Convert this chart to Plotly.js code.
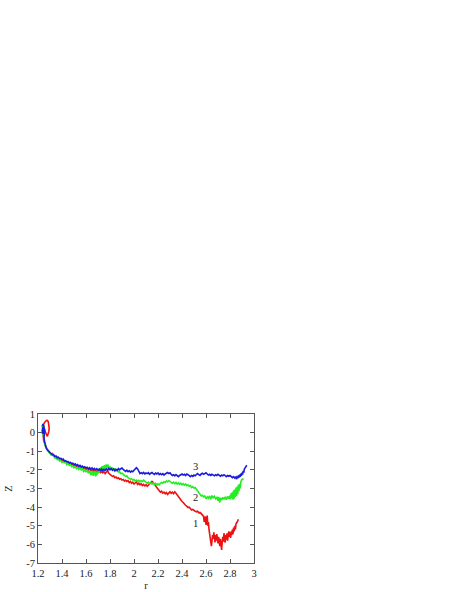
<!DOCTYPE html>
<html><head><meta charset="utf-8">
<script src="https://cdn.plot.ly/plotly-3.0.1.min.js"></script>
<style>html,body{margin:0;padding:0;background:#fff;}#chart{width:458px;height:592px;}</style>
</head><body><div id="chart"></div>
<script>
// Curve 1 (red)
const r1 = [1.235,1.245,1.255,1.265,1.275,1.285,1.29,1.293,1.29,1.285,1.278,1.27,1.262,1.255,1.248,1.243,1.247,1.255,1.265,1.275,1.29,
1.3,1.31,1.32,1.33,1.34,1.35,1.36,1.37,1.38,1.39,1.4,1.41,1.42,1.43,1.44,1.45,1.46,1.47,1.48,1.49,1.5,1.51,1.52,1.53,1.54,1.55,1.56,1.57,1.58,1.59,1.6,1.61,1.62,1.63,1.64,1.65,1.66,1.67,1.68,1.69,1.7,1.71,1.72,1.73,1.74,1.75,1.76,1.77,1.78,1.79,1.8,1.81,1.82,1.83,1.84,1.85,1.86,1.87,1.88,1.89,1.9,1.91,1.92,1.93,1.94,1.95,1.96,1.97,1.98,1.99,2.0,2.01,2.02,2.03,2.04,2.05,2.06,2.07,2.08,2.09,2.1,2.11,2.12,2.13,2.14,2.15,2.16,2.17,2.18,2.19,2.2,2.21,2.22,2.23,2.24,2.25,2.26,2.27,2.28,2.29,2.3,2.31,2.32,2.33,2.34,2.35,2.36,2.37,2.38,2.39,2.4,2.41,2.42,2.43,2.44,2.45,2.46,2.47,2.48,2.49,2.5,2.51,2.52,2.53,2.54,2.55,2.56,2.57,2.58,
2.585,2.59,2.595,2.6,2.605,2.61,2.615,2.62,2.625,2.63,2.635,2.64,2.645,2.65,2.655,2.66,2.665,2.67,2.675,2.68,2.685,2.69,2.695,2.7,2.705,2.71,2.715,2.72,2.725,2.73,2.735,2.74,2.745,2.75,2.755,2.76,2.765,2.77,2.775,2.78,2.785,2.79,2.795,2.8,2.805,2.81,2.815,2.82,2.825,2.83,2.835,2.84,2.845,2.85,2.86,2.87];
const z1 = [0.3,0.45,0.55,0.62,0.66,0.6,0.45,0.25,0.05,-0.12,-0.2,-0.1,0.05,0.15,0.05,-0.15,-0.4,-0.6,-0.75,-0.88,-1.0,
-1.08,-1.15,-1.12,-1.25,-1.28,-1.35,-1.32,-1.42,-1.45,-1.4,-1.52,-1.48,-1.58,-1.55,-1.6,-1.58,-1.68,-1.64,-1.72,-1.7,-1.76,-1.72,-1.82,-1.78,-1.86,-1.82,-1.88,-1.85,-1.93,-1.9,-1.97,-1.93,-2.0,-1.96,-2.05,-2.0,-2.08,-2.03,-2.1,-2.06,-2.12,-2.07,-2.15,-2.1,-2.16,-2.1,-2.2,-2.12,-2.05,-2.18,-2.22,-2.3,-2.35,-2.32,-2.42,-2.38,-2.46,-2.42,-2.5,-2.47,-2.55,-2.52,-2.6,-2.56,-2.62,-2.58,-2.68,-2.62,-2.72,-2.66,-2.76,-2.7,-2.65,-2.78,-2.72,-2.8,-2.74,-2.84,-2.78,-2.86,-2.8,-2.88,-2.82,-2.75,-2.7,-2.62,-2.68,-2.75,-2.85,-2.95,-3.05,-3.1,-3.2,-3.15,-3.25,-3.2,-3.28,-3.22,-3.32,-3.25,-3.18,-3.26,-3.2,-3.28,-3.18,-3.25,-3.35,-3.45,-3.55,-3.6,-3.7,-3.75,-3.85,-3.9,-3.95,-4.02,-4.0,-4.1,-4.15,-4.12,-4.2,-4.22,-4.25,-4.22,-4.3,-4.28,-4.35,-4.4,-4.5,
-4.8,-4.6,-4.5,-4.95,-4.6,-4.45,-5.0,-4.8,-5.2,-5.4,-5.7,-5.9,-6.1,-5.8,-5.5,-5.7,-5.35,-5.6,-5.9,-5.5,-5.8,-5.45,-5.75,-5.95,-5.6,-5.85,-6.1,-5.7,-6.0,-6.3,-5.9,-5.6,-5.85,-5.4,-5.7,-5.9,-5.5,-5.75,-5.4,-5.8,-5.5,-5.3,-5.6,-5.35,-5.65,-5.3,-5.5,-5.2,-5.45,-5.1,-5.3,-5.0,-5.2,-4.9,-4.8,-4.65];
// Curve 2 (green)
const r2 = [1.235,1.24,1.245,1.25,1.245,1.242,1.25,1.255,1.26,1.27,1.28,1.29,1.3,1.31,1.32,1.33,1.34,1.35,1.36,1.37,1.38,1.39,1.4,1.41,1.42,1.43,1.44,1.45,1.46,1.47,1.48,1.49,1.5,1.51,1.52,1.53,1.54,1.55,1.56,1.57,1.58,1.59,1.6,1.61,1.62,1.63,1.64,1.645,1.65,1.655,1.66,1.665,1.67,1.675,1.68,1.685,1.69,1.695,1.7,1.705,1.71,1.715,1.72,1.725,1.73,1.735,1.74,1.745,1.75,1.755,1.76,1.765,1.77,1.775,1.78,1.785,1.79,1.8,1.81,1.82,1.83,1.84,1.85,1.86,1.87,1.88,1.89,1.9,1.91,1.92,1.93,1.94,1.95,1.96,1.97,1.98,1.99,2.0,2.01,2.02,2.03,2.04,2.05,2.06,2.07,2.08,2.09,2.1,2.11,2.12,2.13,2.14,2.15,2.16,2.17,2.18,2.19,2.2,2.21,2.22,2.23,2.24,2.25,2.26,2.27,2.28,2.29,2.3,2.31,2.32,2.33,2.34,2.35,2.36,2.37,2.38,2.39,2.4,2.41,2.42,2.43,2.44,2.45,2.46,2.47,2.48,2.49,2.5,2.51,2.52,2.53,2.54,2.55,2.56,2.57,2.58,2.59,2.6,2.61,2.62,2.63,2.64,2.65,2.66,2.67,2.68,2.69,2.7,2.705,2.71,2.715,2.72,2.73,2.74,2.75,2.76,2.77,2.78,2.79,2.8,2.805,2.81,2.815,2.82,2.825,2.83,2.835,2.84,2.845,2.85,2.855,2.86,2.865,2.87,2.875,2.88,2.885,2.89,2.9,2.905,2.91];
const z2 = [0.35,0.1,0.3,0.0,-0.2,0.05,-0.35,-0.55,-0.7,-0.85,-0.95,-1.05,-1.12,-1.2,-1.18,-1.3,-1.35,-1.32,-1.45,-1.42,-1.52,-1.48,-1.6,-1.55,-1.62,-1.58,-1.72,-1.65,-1.75,-1.7,-1.82,-1.78,-1.88,-1.82,-1.92,-1.86,-1.97,-1.9,-2.0,-1.93,-2.08,-2.0,-2.1,-2.02,-2.18,-2.05,-2.28,-2.1,-2.25,-2.05,-2.32,-2.1,-2.25,-2.05,-2.35,-2.12,-2.3,-2.05,-2.2,-1.98,-2.15,-1.9,-2.1,-1.85,-2.05,-1.8,-2.0,-1.78,-1.95,-1.75,-1.98,-1.72,-1.92,-1.7,-1.9,-1.72,-1.95,-1.82,-1.98,-1.88,-2.02,-1.92,-2.05,-2.0,-2.12,-2.1,-2.2,-2.18,-2.26,-2.3,-2.35,-2.32,-2.42,-2.45,-2.5,-2.48,-2.55,-2.52,-2.6,-2.55,-2.62,-2.56,-2.64,-2.58,-2.62,-2.55,-2.6,-2.65,-2.72,-2.66,-2.74,-2.68,-2.76,-2.7,-2.8,-2.72,-2.82,-2.75,-2.8,-2.72,-2.68,-2.72,-2.64,-2.68,-2.6,-2.64,-2.58,-2.62,-2.68,-2.72,-2.66,-2.74,-2.68,-2.76,-2.7,-2.78,-2.72,-2.8,-2.74,-2.82,-2.76,-2.85,-2.8,-2.88,-2.84,-2.95,-2.9,-2.98,-2.95,-3.05,-3.15,-3.25,-3.35,-3.4,-3.36,-3.45,-3.4,-3.55,-3.45,-3.52,-3.4,-3.58,-3.38,-3.5,-3.42,-3.55,-3.48,-3.65,-3.45,-3.6,-3.75,-3.5,-3.62,-3.48,-3.58,-3.45,-3.6,-3.42,-3.55,-3.38,-3.58,-3.25,-3.5,-3.2,-3.6,-3.1,-3.55,-3.05,-3.45,-2.95,-3.4,-2.9,-3.3,-2.8,-3.15,-2.75,-3.0,-2.65,-2.5,-2.55,-2.45];
// Curve 3 (blue)
const r3 = [1.235,1.24,1.248,1.252,1.245,1.238,1.235,1.24,1.25,1.255,1.252,1.25,1.255,1.26,1.265,1.27,1.28,1.29,1.3,1.31,1.32,1.33,1.34,1.35,1.36,1.37,1.38,1.39,1.4,1.41,1.42,1.43,1.44,1.45,1.46,1.47,1.48,1.49,1.5,1.51,1.52,1.53,1.54,1.55,1.56,1.57,1.58,1.59,1.6,1.61,1.62,1.63,1.64,1.65,1.66,1.67,1.68,1.69,1.7,1.71,1.72,1.73,1.74,1.75,1.76,1.77,1.78,1.79,1.8,1.81,1.82,1.83,1.84,1.85,1.86,1.87,1.88,1.89,1.9,1.91,1.92,1.93,1.94,1.95,1.96,1.97,1.98,1.99,2.0,2.01,2.02,2.03,2.04,2.05,2.06,2.07,2.08,2.09,2.1,2.11,2.12,2.13,2.14,2.15,2.16,2.17,2.18,2.19,2.2,2.21,2.22,2.23,2.24,2.25,2.26,2.27,2.28,2.29,2.3,2.31,2.32,2.33,2.34,2.35,2.36,2.37,2.38,2.39,2.4,2.41,2.42,2.43,2.44,2.45,2.46,2.47,2.48,2.49,2.5,2.51,2.52,2.53,2.54,2.55,2.56,2.57,2.58,2.59,2.6,2.61,2.62,2.63,2.64,2.65,2.66,2.67,2.68,2.69,2.7,2.71,2.72,2.73,2.74,2.75,2.76,2.77,2.78,2.79,2.8,2.81,2.82,2.83,2.84,2.85,2.855,2.86,2.865,2.87,2.875,2.88,2.885,2.89,2.895,2.9,2.905,2.91,2.915,2.92,2.93,2.94];
const z3 = [0.35,0.42,0.38,0.2,0.05,-0.05,0.1,0.25,0.3,0.15,-0.1,-0.3,-0.5,-0.65,-0.78,-0.85,-0.95,-1.02,-1.1,-1.12,-1.2,-1.18,-1.28,-1.25,-1.35,-1.32,-1.4,-1.38,-1.45,-1.42,-1.52,-1.5,-1.56,-1.55,-1.62,-1.6,-1.66,-1.64,-1.72,-1.68,-1.76,-1.72,-1.8,-1.76,-1.84,-1.8,-1.87,-1.83,-1.9,-1.86,-1.94,-1.88,-1.96,-1.9,-1.98,-1.92,-2.0,-1.94,-2.02,-1.95,-2.04,-1.96,-2.05,-1.97,-2.03,-1.95,-2.02,-1.92,-2.0,-1.93,-2.02,-1.95,-2.05,-1.97,-2.03,-1.93,-2.0,-1.94,-1.9,-1.98,-2.02,-2.08,-2.02,-2.1,-2.05,-2.12,-2.06,-2.1,-2.02,-1.95,-1.88,-1.95,-2.1,-2.2,-2.15,-2.2,-2.14,-2.22,-2.17,-2.2,-2.15,-2.24,-2.18,-2.14,-2.2,-2.24,-2.17,-2.22,-2.16,-2.25,-2.2,-2.26,-2.2,-2.28,-2.22,-2.18,-2.14,-2.2,-2.16,-2.24,-2.3,-2.26,-2.32,-2.25,-2.3,-2.36,-2.3,-2.26,-2.22,-2.28,-2.24,-2.3,-2.22,-2.26,-2.32,-2.36,-2.3,-2.35,-2.28,-2.32,-2.25,-2.2,-2.26,-2.3,-2.22,-2.18,-2.24,-2.2,-2.16,-2.22,-2.28,-2.24,-2.3,-2.24,-2.28,-2.32,-2.26,-2.3,-2.24,-2.3,-2.34,-2.28,-2.32,-2.26,-2.32,-2.36,-2.3,-2.34,-2.3,-2.36,-2.42,-2.36,-2.44,-2.38,-2.5,-2.35,-2.45,-2.3,-2.42,-2.25,-2.38,-2.2,-2.32,-2.15,-2.25,-2.05,-2.15,-1.95,-1.85,-1.75];
const curveLabels = ['1','2','3'];
const labelR = [2.51,2.51,2.51];
const labelZ = [-4.9,-3.5,-1.82];
const xTicks = [1.2,1.4,1.6,1.8,2,2.2,2.4,2.6,2.8,3];
const yTicks = [1,0,-1,-2,-3,-4,-5,-6,-7];

const font = {family:'"Liberation Serif", "DejaVu Serif", serif', size:10.5, color:'#222'};
const mk = (x,y,c)=>({x:x,y:y,type:'scatter',mode:'lines',line:{color:c,width:1.6},hoverinfo:'skip',showlegend:false});
const data = [mk(r1,z1,'#ee1111'), mk(r2,z2,'#22ee22'), mk(r3,z3,'#1a1ae0')];
const ax = {showgrid:false,zeroline:false,showline:true,linecolor:'#555',linewidth:1,mirror:'ticks',ticks:'inside',ticklen:4,tickcolor:'#555',tickfont:font};
const layout = {
  width:458,height:592,paper_bgcolor:'#fff',plot_bgcolor:'#fff',font:font,
  margin:{l:38,r:204,t:414,b:29,pad:0},
  xaxis:Object.assign({},ax,{range:[1.2,3],tickvals:xTicks,ticktext:xTicks.map(String),title:{text:'r',font:font,standoff:4}}),
  yaxis:Object.assign({},ax,{range:[-7,1],tickvals:yTicks,ticktext:yTicks.map(String),title:{text:'Z',font:font,standoff:11}}),
  annotations: curveLabels.map((t,i)=>({x:labelR[i],y:labelZ[i],xref:'x',yref:'y',text:t,showarrow:false,font:font}))
};
Plotly.newPlot('chart',data,layout,{displayModeBar:false,staticPlot:true});
</script></body></html>
